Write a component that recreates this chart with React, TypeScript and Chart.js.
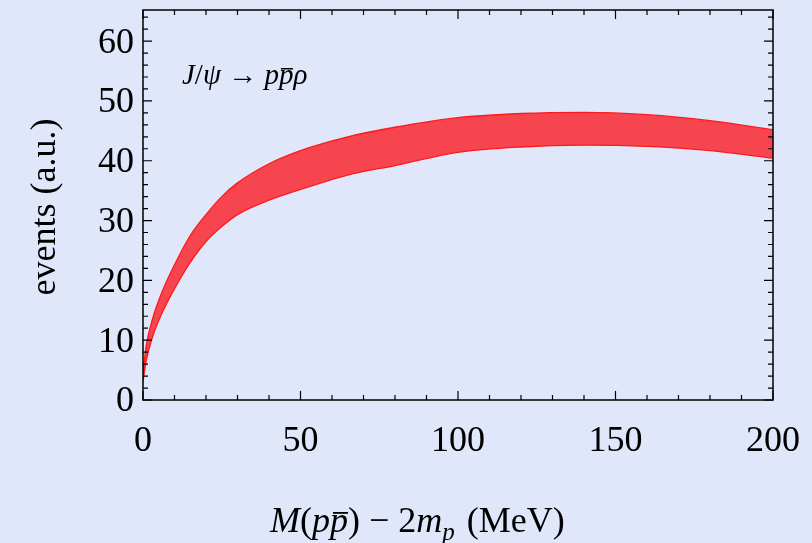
import { Chart, registerables } from "chart.js";
import { useEffect, useRef } from "react";

Chart.register(...registerables);

const massDiff = [0, 1, 3, 6, 10, 15, 20, 25, 30, 40, 50, 65, 80, 100, 120, 140, 160, 180, 200];
const upperBand = [4.5, 9, 13.5, 18, 22.6, 27.5, 31, 34, 36.3, 39.5, 41.7, 44, 45.6, 47.2, 47.9, 48.1, 47.7, 46.7, 45.2];
const lowerBand = [3, 6.5, 10.5, 14.5, 18.6, 23, 26.5, 29, 31, 33.4, 35.2, 37.6, 39.2, 41.4, 42.3, 42.6, 42.4, 41.7, 40.4];
const xTicks = [0, 50, 100, 150, 200];
const yTicks = [0, 10, 20, 30, 40, 50, 60];

const BG = "#e1e7fa";
const SERIF = "'Liberation Serif', 'DejaVu Serif', serif";

const framePlugin = {
  id: "frame",
  afterDraw(chart: any) {
    const { ctx, chartArea: a, scales } = chart;
    const xs = scales.x, ys = scales.y;
    ctx.save();
    ctx.strokeStyle = "#000";
    ctx.lineWidth = 1.5;
    ctx.strokeRect(a.left, a.top, a.right - a.left, a.bottom - a.top);
    ctx.lineWidth = 1.2;
    for (let v = 0; v <= 200; v += 10) {
      const px = xs.getPixelForValue(v);
      const len = v % 50 === 0 ? 9 : 5;
      ctx.beginPath();
      ctx.moveTo(px, a.bottom); ctx.lineTo(px, a.bottom - len);
      ctx.moveTo(px, a.top); ctx.lineTo(px, a.top + len);
      ctx.stroke();
    }
    for (let v = 0; v <= 64; v += 2) {
      const py = ys.getPixelForValue(v);
      const len = v % 10 === 0 ? 9 : 5;
      ctx.beginPath();
      ctx.moveTo(a.left, py); ctx.lineTo(a.left + len, py);
      ctx.moveTo(a.right, py); ctx.lineTo(a.right - len, py);
      ctx.stroke();
    }
    ctx.fillStyle = "#000";
    ctx.font = `36px ${SERIF}`;
    ctx.textAlign = "center";
    ctx.textBaseline = "middle";
    xTicks.forEach((v) => ctx.fillText(String(v), xs.getPixelForValue(v), 442));
    ctx.textAlign = "right";
    yTicks.forEach((v) => ctx.fillText(String(v), 134, ys.getPixelForValue(v) + 2));

    ctx.textAlign = "left";
    ctx.textBaseline = "alphabetic";
    let x = 270;
    const y0 = 532;
    const put = (t: string, style: string, size = 36, dy = 0) => {
      ctx.font = `${style} ${size}px ${SERIF}`;
      ctx.fillText(t, x, y0 + dy);
      x += ctx.measureText(t).width;
    };
    put("M", "italic");
    put("(", "");
    put("p", "italic");
    const pbx = x;
    put("p", "italic");
    ctx.fillRect(pbx + 3, y0 - 20, 15, 1.8);
    put(") − 2", "");
    put("m", "italic");
    put("p", "italic", 25, 8);
    x += 12;
    put("(MeV)", "");

    ctx.save();
    ctx.translate(55, 207);
    ctx.rotate(-Math.PI / 2);
    ctx.textAlign = "center";
    ctx.font = `36px ${SERIF}`;
    ctx.fillText("events (a.u.)", 0, 0);
    ctx.restore();

    x = 182;
    const ay = 84;
    const put2 = (t: string, style: string) => {
      ctx.font = `${style} 29px ${SERIF}`;
      ctx.fillText(t, x, ay);
      x += ctx.measureText(t).width;
    };
    put2("J", "italic");
    put2("/", "");
    put2("ψ", "italic");
    put2(" → ", "");
    put2("p", "italic");
    const p2 = x;
    put2("p", "italic");
    ctx.fillRect(p2 + 2, ay - 16, 12, 1.5);
    put2("ρ", "italic");
    ctx.restore();
  },
};

export default function App() {
  const canvasRef = useRef<HTMLCanvasElement>(null);

  useEffect(() => {
    if (!canvasRef.current) return;
    const chart = new Chart(canvasRef.current, {
      type: "line",
      data: {
        datasets: [
          {
            data: massDiff.map((m, i) => ({ x: m, y: lowerBand[i] })),
            borderColor: "#ff1a1a",
            borderWidth: 1.3,
            pointRadius: 0,
            cubicInterpolationMode: "monotone",
            fill: false,
          },
          {
            data: massDiff.map((m, i) => ({ x: m, y: upperBand[i] })),
            borderColor: "#ff1a1a",
            borderWidth: 1.3,
            backgroundColor: "#f6454f",
            pointRadius: 0,
            cubicInterpolationMode: "monotone",
            fill: "-1",
          },
        ],
      },
      options: {
        animation: false,
        responsive: false,
        events: [],
        layout: { padding: { top: 10, right: 39, left: 0, bottom: 0 } },
        plugins: { legend: { display: false }, tooltip: { enabled: false } },
        scales: {
          x: {
            type: "linear",
            min: 0,
            max: 200,
            grid: { display: false },
            border: { display: false },
            ticks: { display: false },
            afterFit: (s: any) => { s.height = 143; },
          },
          y: {
            min: 0,
            max: 65.2,
            grid: { display: false },
            border: { display: false },
            ticks: { display: false },
            afterFit: (s: any) => { s.width = 143; },
          },
        },
      },
      plugins: [
        {
          id: "bg",
          beforeDraw(c: any) {
            c.ctx.save();
            c.ctx.fillStyle = BG;
            c.ctx.fillRect(0, 0, c.width, c.height);
            c.ctx.restore();
          },
        },
        framePlugin,
      ],
    });
    return () => chart.destroy();
  }, []);

  return (
    <div style={{ position: "absolute", left: 0, top: 0, width: 812, height: 543 }}>
      <canvas ref={canvasRef} width={812} height={543} style={{ width: 812, height: 543 }} />
    </div>
  );
}
